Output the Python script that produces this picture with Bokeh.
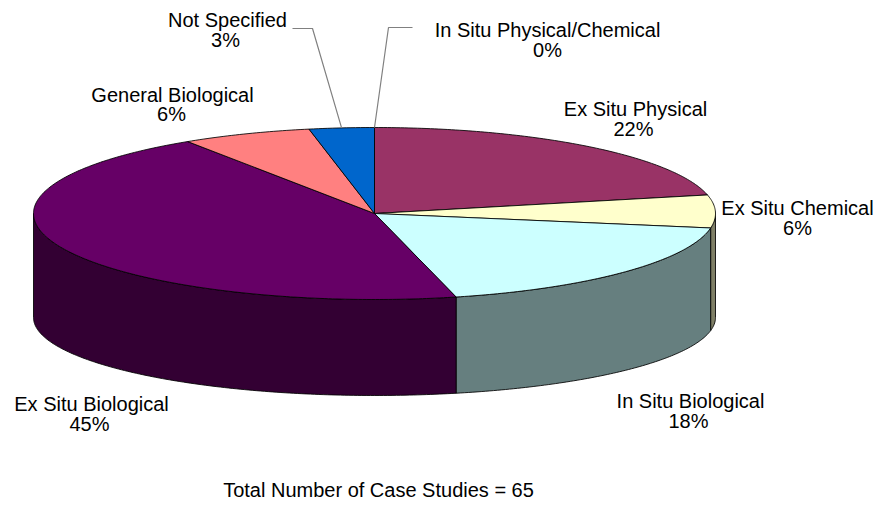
import numpy as np
from bokeh.plotting import figure
from bokeh.models import Range1d, ColumnDataSource
from bokeh.core.properties import value
from bokeh.embed import file_html
from bokeh.resources import INLINE

# ---------------- data ----------------
categories = ["In Situ Physical/Chemical", "Ex Situ Physical", "Ex Situ Chemical",
              "In Situ Biological", "Ex Situ Biological", "General Biological",
              "Not Specified"]
case_counts = [0, 14, 4, 12, 29, 4, 2]          # total = 65 case studies
top_colors = ["#9999FF", "#993366", "#FFFFCC", "#CCFFFF", "#660066", "#FF8080", "#0066CC"]

# ---------------- layout ----------------
W, H = 879, 500
CX, CY, RX, RY = 374, 213, 341, 86      # top ellipse
CYB, RYB = 317, 78                       # bottom ellipse
FONT = value("Liberation Sans")
FSIZE = "20px"

label_x = [547, 635, 797, 690, 91, 172, 227]
label_y = [29, 108, 207, 400, 403, 94, 19]
pct_x = [547, 633, 797, 688, 89, 171, 225]
pct_y = [49, 128, 227, 420, 423, 113, 39]
# leader lines: (start point, elbow point) for slices that have one
leaders = {0: [(412, 27), (388, 27)], 6: [(292, 28), (312, 28)]}


def darker(hexcol, f=0.5):
    h = hexcol.lstrip("#")
    r, g, b = (int(h[i:i + 2], 16) for i in (0, 2, 4))
    return "#%02x%02x%02x" % (int(r * f), int(g * f), int(b * f))


def top_pt(t):
    return CX + RX * np.sin(t), CY - RY * np.cos(t)


def bot_pt(t):
    return CX + RX * np.sin(t), CYB - RYB * np.cos(t)


p = figure(width=W, height=H, x_range=Range1d(0, W), y_range=Range1d(H, 0),
           output_backend="svg", toolbar_location=None, min_border=0,
           x_axis_type=None, y_axis_type=None)
p.grid.visible = False
p.outline_line_color = None
p.background_fill_color = "white"

vals = np.array(case_counts, dtype=float)
total = int(vals.sum())
pct_text = [f"{int(round(100 * v / total))}%" for v in vals]
edges = np.concatenate([[0.0], np.cumsum(vals / vals.sum())]) * 2 * np.pi

# side walls (front half only)
sx, sy, sc = [], [], []
for i in range(len(vals)):
    a = max(edges[i], np.pi / 2)
    b = min(edges[i + 1], 3 * np.pi / 2)
    if b - a <= 1e-6:
        continue
    t = np.linspace(a, b, max(4, int((b - a) * 80)))
    tx, ty = top_pt(t)
    bx, by = bot_pt(t[::-1])
    sx.append(list(tx) + list(bx))
    sy.append(list(ty) + list(by))
    sc.append(darker(top_colors[i]))
p.patches(xs=sx, ys=sy, fill_color=sc, line_color="black", line_width=1, line_alpha=0.85)

# top faces
px, py, pc = [], [], []
for i in range(len(vals)):
    a, b = edges[i], edges[i + 1]
    if b - a <= 1e-6:
        continue
    t = np.linspace(a, b, max(4, int((b - a) * 80)))
    tx, ty = top_pt(t)
    px.append([CX] + list(tx))
    py.append([CY] + list(ty))
    pc.append(top_colors[i])
p.patches(xs=px, ys=py, fill_color=pc, line_color="black", line_width=1, line_alpha=0.85)

# leader lines
lx, ly = [], []
for i, pts in leaders.items():
    mid = (edges[i] + edges[i + 1]) / 2
    mx, my = top_pt(mid)
    lx.append([pts[0][0], pts[1][0], mx])
    ly.append([pts[0][1], pts[1][1], my])
p.multi_line(xs=lx, ys=ly, line_color="#808080", line_width=1.2)

# labels
src = ColumnDataSource(dict(x=label_x, y=label_y, t=categories))
p.text(x="x", y="y", text="t", source=src, text_font=FONT, text_font_size=FSIZE,
       text_align="center", text_baseline="middle", text_color="black")
src2 = ColumnDataSource(dict(x=pct_x, y=pct_y, t=pct_text))
p.text(x="x", y="y", text="t", source=src2, text_font=FONT, text_font_size=FSIZE,
       text_align="center", text_baseline="middle", text_color="black")

p.text(x=[378], y=[489], text=[f"Total Number of Case Studies = {total}"],
       text_font=FONT, text_font_size=FSIZE, text_align="center",
       text_baseline="middle", text_color="black")

open("out.html", "w").write(file_html(p, INLINE))
